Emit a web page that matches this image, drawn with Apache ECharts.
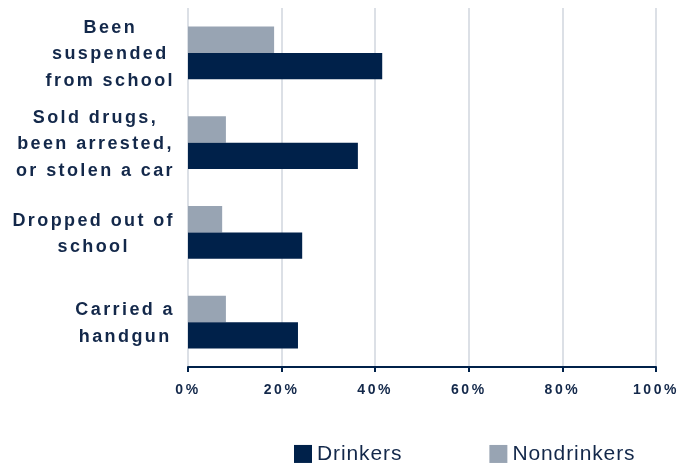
<!DOCTYPE html>
<html>
<head>
<meta charset="utf-8">
<style>
    html, body { margin: 0; padding: 0; background: #fff; }
    #chart { width: 699px; height: 464px; }
</style>
<script src="https://cdn.jsdelivr.net/npm/echarts@6/dist/echarts.min.js"></script>
</head>
<body>
<div id="chart"></div>
<script>
var categories = [
    'Been\nsuspended\nfrom school',
    'Sold drugs,\nbeen arrested,\nor stolen a car',
    'Dropped out of\nschool',
    'Carried a\nhandgun'
];
var drinkers = [41.5, 36.3, 24.4, 23.5];
var nondrinkers = [18.4, 8.1, 7.3, 8.1];
var xTicks = [0, 20, 40, 60, 80, 100];

// spaced-out lettering like the original (canvas letterSpacing)
var spacing = { '18px': '2.4px', '14px': '2.6px', '21px': '0.9px' };
function applySpacing(ctx) {
    var m = (ctx.font || '').match(/(\d+px)/);
    ctx.letterSpacing = (m && spacing[m[1]]) ? spacing[m[1]] : '0px';
}
var proto = CanvasRenderingContext2D.prototype;
var origFill = proto.fillText, origMeasure = proto.measureText;
proto.fillText = function (t, x, y, w) {
    applySpacing(this);
    return w === undefined ? origFill.call(this, t, x, y) : origFill.call(this, t, x, y, w);
};
proto.measureText = function (t) {
    applySpacing(this);
    return origMeasure.call(this, t);
};

var navy = '#00214a';
var grey = '#98a4b3';
var textColor = '#13284a';

var myChart = echarts.init(document.getElementById('chart'));
var option = {
    backgroundColor: '#fff',
    animation: false,
    grid: {
        left: 188,
        right: 43,
        top: 8,
        bottom: 97,
        outerBoundsMode: 'none'
    },
    legend: {
        data: ['Drinkers', 'Nondrinkers'],
        left: 294,
        top: 443,
        icon: 'rect',
        itemWidth: 18,
        itemHeight: 18,
        itemGap: 87,
        padding: 0,
        textStyle: {
            fontFamily: 'Arial',
            fontSize: 21,
            color: textColor
        }
    },
    xAxis: {
        type: 'value',
        min: xTicks[0],
        max: xTicks[xTicks.length - 1],
        interval: 20,
        axisLine: {
            show: true,
            lineStyle: { color: navy, width: 2 }
        },
        axisTick: {
            show: true,
            length: 5,
            lineStyle: { color: navy, width: 2 }
        },
        splitLine: {
            show: true,
            lineStyle: { color: '#dce0e6', width: 2 }
        },
        axisLabel: {
            formatter: '{value}%',
            margin: 15,
            fontFamily: 'Arial',
            fontWeight: 'bold',
            fontSize: 14,
            color: textColor
        }
    },
    yAxis: {
        type: 'category',
        inverse: true,
        data: categories,
        axisLine: { show: false },
        axisTick: { show: false },
        splitLine: { show: false },
        axisLabel: {
            margin: 13,
            align: 'right',
            padding: [3, 0, 0, 0],
            formatter: function (v) {
                return v.split('\n').map(function (s) { return '{c|' + s + '}'; }).join('\n');
            },
            rich: {
                c: {
                    align: 'center',
                    fontFamily: 'Arial',
                    fontWeight: 'bold',
                    fontSize: 18,
                    lineHeight: 26.5,
                    color: textColor
                }
            }
        }
    },
    // nondrinkers first so they sit above the drinkers bar in each group
    series: [{
        name: 'Nondrinkers',
        type: 'bar',
        data: nondrinkers,
        barGap: '0%',
        barCategoryGap: '41%',
        itemStyle: { color: grey }
    }, {
        name: 'Drinkers',
        type: 'bar',
        data: drinkers,
        barGap: '0%',
        barCategoryGap: '41%',
        itemStyle: { color: navy }
    }]
};
myChart.setOption(option);
</script>
</body>
</html>
